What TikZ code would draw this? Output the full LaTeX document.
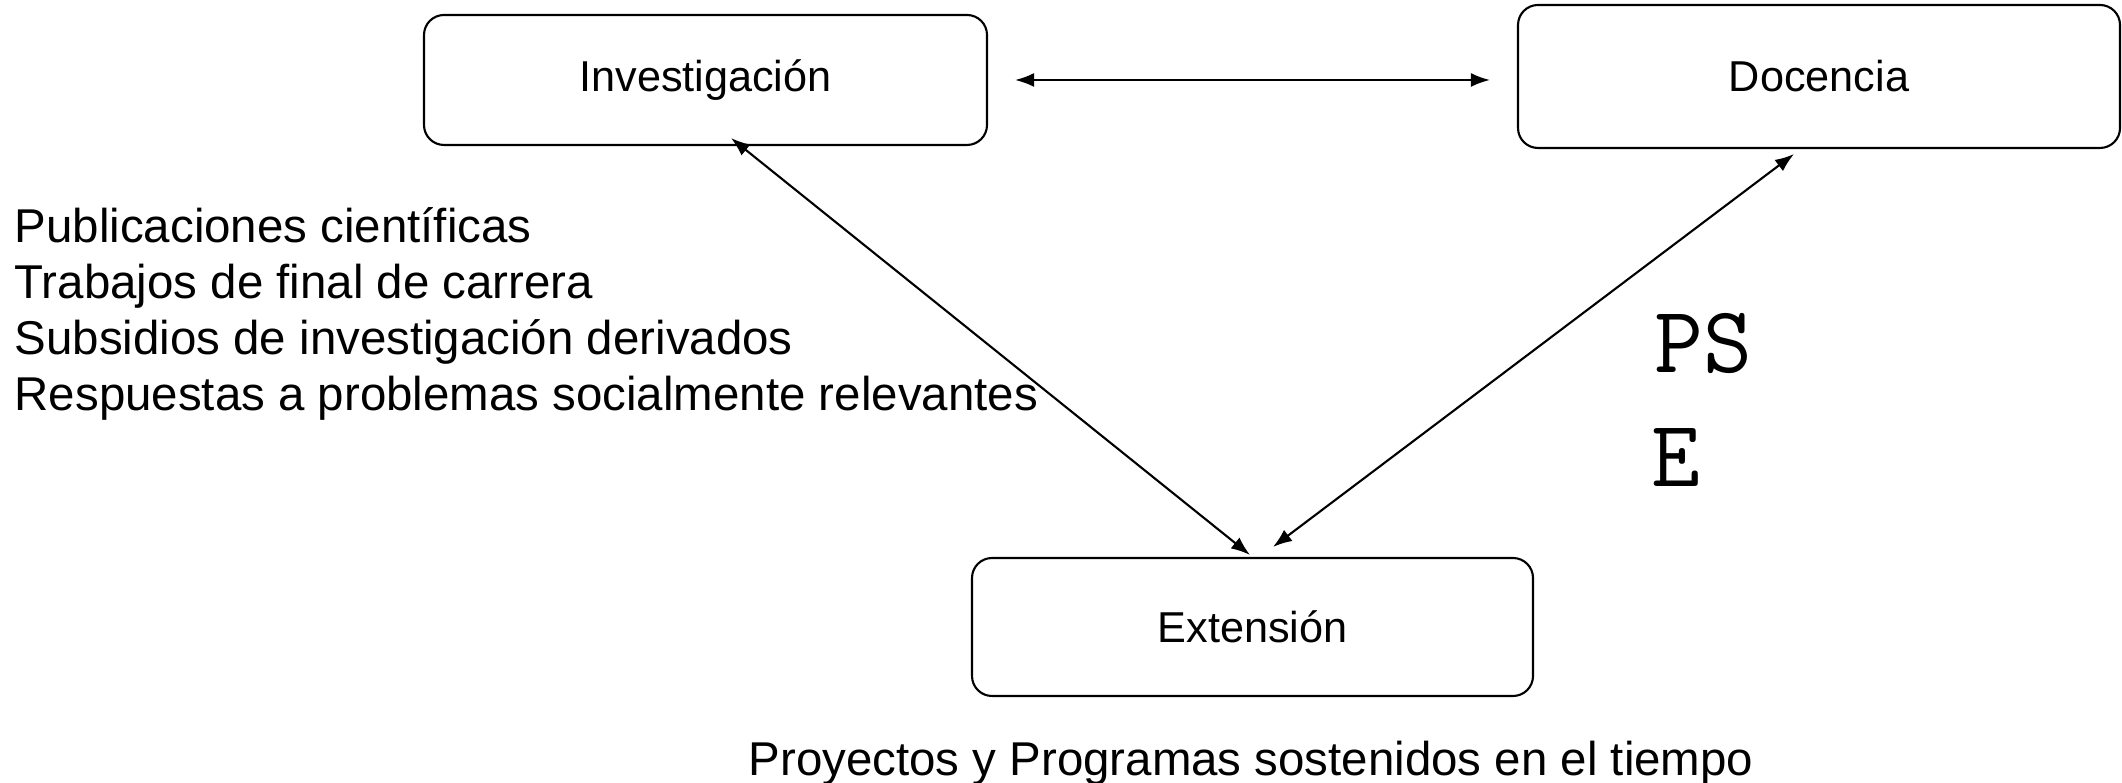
\documentclass[tikz,border=0pt]{standalone}
\usepackage{fontspec}
\setmainfont{Liberation Sans}
\usetikzlibrary{arrows.meta,calc}

\begin{document}
\begin{tikzpicture}
    \tikzset{font=\fontsize{12.3}{14.8}\selectfont}
    \tikzset{area/.style = {shape=rectangle,draw,rounded corners=0.2cm,line width=0.6pt,inner sep=0pt}}
    \tikzset{note/.style = {anchor=base west,inner sep=0pt,font=\fontsize{13.5}{16.2}\selectfont}}
    \tikzset{tag/.style = {anchor=base west,inner sep=0pt,font=\ttfamily\fontsize{27}{32}\selectfont}}
    \tikzset{link/.style = {<->,line width=0.6pt,>={Latex[length=1.9mm,width=1.4mm]}}}
    \useasboundingbox (0,0) rectangle (21.22,7.83);
    % areas
    \node[area,minimum width=5.63cm,minimum height=1.30cm] (inv) at (7.055,7.03) {Investigación};
    \node[area,minimum width=6.02cm,minimum height=1.43cm] (doc) at (18.19,7.065) {Docencia};
    \node[area,minimum width=5.61cm,minimum height=1.38cm] (ext) at (12.525,1.56) {Extensión};

    % texts
    \node[note] (pub) at (0.14,5.40) {Publicaciones científicas};
    \node[note] (tfc) at (0.14,4.84) {Trabajos de final de carrera};
    \node[note] (sub) at (0.14,4.28) {Subsidios de investigación derivados};
    \node[note] (res) at (0.14,3.72) {Respuestas a problemas socialmente relevantes};
    \node[note,anchor=base] (pps) at (12.51,0.07) {Proyectos y Programas sostenidos en el tiempo};
    \node[tag] (ps) at (16.54,4.10) {PS};
    \node[tag] (e) at (16.51,2.96) {E};

    %edges
    \draw[link,shorten <=0.27cm,shorten >=0.27cm] (inv.east) -- (inv.east -| doc.west);
    \draw[link] ($(inv.south)+(0.255,0.08)$) -- ($(ext.north)+(-0.025,0.02)$);
    \draw[link] ($(doc.south)+(-0.25,-0.05)$) -- ($(ext.north)+(0.205,0.10)$);
\end{tikzpicture}
\end{document}
